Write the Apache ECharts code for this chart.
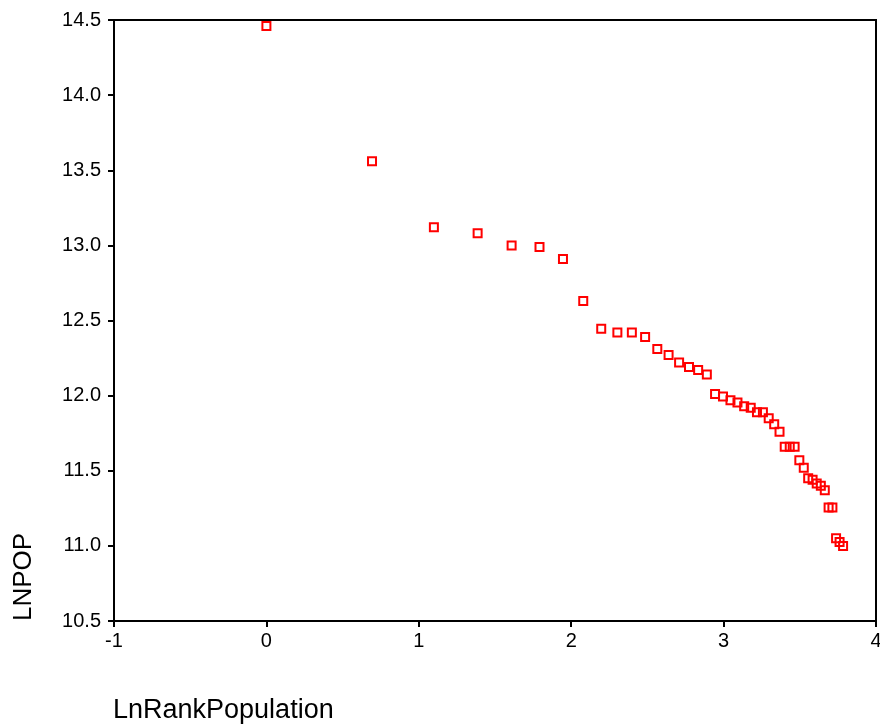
<!DOCTYPE html>
<html>
<head>
<meta charset="utf-8">
<script src="https://cdn.jsdelivr.net/npm/echarts@6/dist/echarts.min.js"></script>
<style>
  html, body { margin: 0; padding: 0; background: #fff; }
  #main { width: 880px; height: 724px; }
</style>
</head>
<body>
<div id="main"></div>
<script>
// ln(rank) of each place
const lnRank = [
  0.000, 0.693, 1.099, 1.386, 1.609, 1.792, 1.946, 2.079, 2.197, 2.303,
  2.398, 2.485, 2.565, 2.639, 2.708, 2.773, 2.833, 2.890, 2.944, 2.996,
  3.045, 3.091, 3.135, 3.178, 3.219, 3.258, 3.296, 3.332, 3.367, 3.401,
  3.434, 3.466, 3.497, 3.526, 3.555, 3.584, 3.611, 3.638, 3.664, 3.689,
  3.714, 3.738, 3.761, 3.784
];
// ln(population)
const lnPop = [
  14.46, 13.56, 13.12, 13.08, 13.00, 12.99, 12.91, 12.63, 12.445, 12.42,
  12.42, 12.39, 12.31, 12.27, 12.22, 12.19, 12.17, 12.14, 12.01, 11.995,
  11.97, 11.955, 11.93, 11.92, 11.89, 11.89, 11.85, 11.81, 11.76, 11.66,
  11.66, 11.66, 11.57, 11.52, 11.45, 11.44, 11.415, 11.40, 11.37, 11.255,
  11.255, 11.05, 11.025, 11.00
];

const xTitle = "LnRankPopulation";
const yTitle = "LNPOP";

var chart = echarts.init(document.getElementById("main"));
var font = "Liberation Sans, Arial, sans-serif";

var option = {
  animation: false,
  grid: {
    left: 114,
    right: 4,
    top: 20,
    bottom: 103,
    outerBoundsMode: "none",
    containLabel: false,
    show: true,
    borderColor: "#000",
    borderWidth: 2,
  },
  xAxis: {
    type: "value",
    min: -1,
    max: 4,
    interval: 1,
    axisLine: { onZero: false, lineStyle: { color: "#000", width: 2 } },
    axisTick: { length: 6, lineStyle: { color: "#000", width: 2 } },
    axisLabel: { color: "#000", fontSize: 20, fontFamily: font, margin: 10 },
    splitLine: { show: false },
  },
  yAxis: {
    type: "value",
    min: 10.5,
    max: 14.5,
    interval: 0.5,
    axisLine: { onZero: false, lineStyle: { color: "#000", width: 2 } },
    axisTick: { length: 6, lineStyle: { color: "#000", width: 2 } },
    axisLabel: {
      color: "#000",
      fontSize: 20,
      fontFamily: font,
      margin: 13,
      formatter: (v) => v.toFixed(1),
    },
    splitLine: { show: false },
  },
  graphic: [
    {
      type: "text",
      x: 113,
      y: 711,
      style: {
        text: xTitle,
        font: "27px " + font,
        fill: "#000",
        textAlign: "left",
        textVerticalAlign: "middle",
      },
    },
    {
      type: "text",
      x: 24,
      y: 621,
      rotation: Math.PI / 2,
      style: {
        text: yTitle,
        font: "26px " + font,
        fill: "#000",
        textAlign: "left",
        textVerticalAlign: "middle",
      },
    },
  ],
  series: [
    {
      type: "scatter",
      symbol: "rect",
      symbolSize: 8,
      itemStyle: {
        color: "rgba(0,0,0,0)",
        borderColor: "#ff0000",
        borderWidth: 2,
        opacity: 1,
      },
      data: lnRank.map((x, i) => [x, lnPop[i]]),
    },
  ],
};

option && chart.setOption(option);
</script>
</body>
</html>
